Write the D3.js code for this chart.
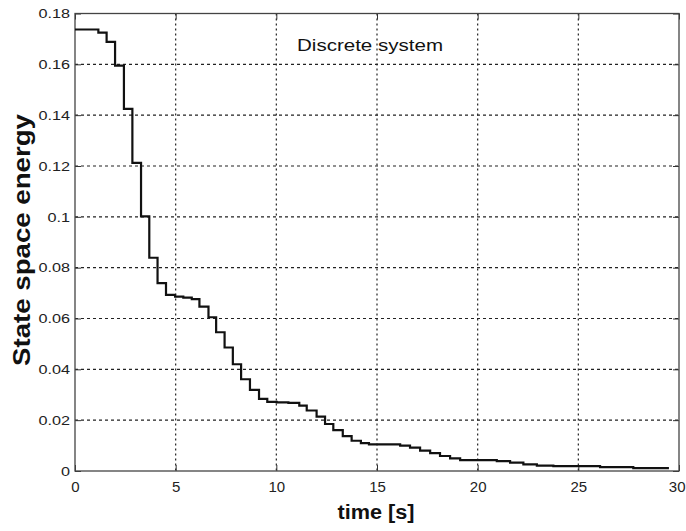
<!DOCTYPE html>
<html>
<head>
<meta charset="utf-8">
<script src="https://cdn.jsdelivr.net/npm/d3@7"></script>
<style>
  html, body { margin: 0; padding: 0; background: #fff; }
  svg { display: block; }
  text { font-family: "Liberation Sans", Arial, sans-serif; }
</style>
</head>
<body>
<svg id="chart" width="686" height="531"></svg>
<script>
// Step start times [s] and energy levels (held until next step)
const stepTimes = [0, 1.16, 1.57, 1.99, 2.43, 2.85, 3.28, 3.69, 4.10, 4.52,
  4.97, 5.38, 5.8, 6.18, 6.63, 7.01, 7.43, 7.84, 8.25, 8.69,
  9.14, 9.55, 10.02, 10.6, 11.14, 11.51, 12.0, 12.42, 12.83, 13.3,
  13.74, 14.2, 14.6, 16.15, 16.64, 17.14, 17.64, 18.13, 18.63, 19.13,
  20.95, 21.61, 22.27, 22.94, 23.76, 26.08, 27.73];
const energy = [0.1737, 0.1725, 0.1688, 0.1595, 0.1425, 0.1212, 0.1002, 0.0839, 0.0739, 0.0693,
  0.0686, 0.0682, 0.0676, 0.0647, 0.0605, 0.0546, 0.0486, 0.0420, 0.0361, 0.0319,
  0.0284, 0.0272, 0.0270, 0.0268, 0.0257, 0.0238, 0.0214, 0.0185, 0.0161, 0.0137,
  0.0119, 0.0110, 0.0105, 0.0100, 0.0092, 0.0080, 0.0070, 0.0059, 0.0050, 0.0043,
  0.0039, 0.0033, 0.0026, 0.0021, 0.0019, 0.0015, 0.0011];
const endTime = 29.5;

const xTicks = [0, 5, 10, 15, 20, 25, 30];
const yTicks = [0, 0.02, 0.04, 0.06, 0.08, 0.1, 0.12, 0.14, 0.16, 0.18];
const xLabel = "time [s]";
const yLabel = "State space energy";
const annotation = "Discrete system";

const svg = d3.select("#chart");
const m = { left: 75, right: 679, top: 13.5, bottom: 471 };

const x = d3.scaleLinear().domain([0, 30]).range([m.left, m.right]);
const y = d3.scaleLinear().domain([0, 0.18]).range([m.bottom, m.top]);

// grid
const grid = svg.append("g");
grid.selectAll("line.gx").data(xTicks.slice(1, -1)).join("line")
  .attr("x1", d => x(d)).attr("x2", d => x(d))
  .attr("y1", m.top).attr("y2", m.bottom)
  .attr("stroke", "#222").attr("stroke-width", 1.2)
  .attr("stroke-dasharray", "2,3");
grid.selectAll("line.gy").data(yTicks.slice(1, -1)).join("line")
  .attr("x1", m.left).attr("x2", m.right)
  .attr("y1", d => y(d)).attr("y2", d => y(d))
  .attr("stroke", "#222").attr("stroke-width", 1.2)
  .attr("stroke-dasharray", "3,3");

// axes
const fmtY = d => d === 0 ? "0" : d3.format("")(+d.toFixed(2));
const axB = svg.append("g").attr("transform", `translate(0,${m.bottom})`)
  .call(d3.axisBottom(x).tickValues(xTicks).tickSize(-6).tickPadding(10).tickFormat(d3.format("d")));
const axL = svg.append("g").attr("transform", `translate(${m.left},0)`)
  .call(d3.axisLeft(y).tickValues(yTicks).tickSize(-6).tickPadding(5).tickFormat(fmtY));
const axT = svg.append("g").attr("transform", `translate(0,${m.top})`)
  .call(d3.axisTop(x).tickValues(xTicks).tickSize(-6).tickFormat(""));
const axR = svg.append("g").attr("transform", `translate(${m.right},0)`)
  .call(d3.axisRight(y).tickValues(yTicks).tickSize(-6).tickFormat(""));
[axB, axL, axT, axR].forEach(a => {
  a.select(".domain").remove();
  a.selectAll(".tick line").attr("stroke", "#333");
  a.selectAll("text").attr("fill", "#222");
});
axB.selectAll("text").style("font-size", "15px");
axB.selectAll(".tick text").filter(d => d === 30).attr("text-anchor", "end").attr("dx", "6");
axL.selectAll("text").style("font-size", "13.5px");
axL.selectAll(".tick text").each(function () {
  const w = this.getComputedTextLength();
  d3.select(this).attr("textLength", w * 1.2).attr("lengthAdjust", "spacingAndGlyphs");
});

// box
svg.append("rect").attr("x", m.left).attr("y", m.top)
  .attr("width", m.right - m.left).attr("height", m.bottom - m.top)
  .attr("fill", "none").attr("stroke", "#444").attr("stroke-width", 1.3);

// line
const pts = stepTimes.map((t, i) => [t, energy[i]]);
pts.push([endTime, energy[energy.length - 1]]);
svg.append("path").datum(pts)
  .attr("fill", "none").attr("stroke", "#111").attr("stroke-width", 2.2)
  .attr("stroke-linejoin", "miter")
  .attr("d", d3.line().x(d => x(d[0])).y(d => y(d[1])).curve(d3.curveStepAfter));

// annotation
svg.append("text").attr("x", 297).attr("y", 51).text(annotation)
  .style("font-size", "16px").attr("fill", "#111")
  .attr("textLength", 146).attr("lengthAdjust", "spacingAndGlyphs");

// axis labels
svg.append("text").attr("x", 376).attr("y", 519).attr("text-anchor", "middle")
  .style("font-size", "20px").style("font-weight", "bold").attr("fill", "#111")
  .attr("textLength", 77).attr("lengthAdjust", "spacingAndGlyphs").text(xLabel);
svg.append("text").attr("transform", "translate(30,240) rotate(-90)").attr("text-anchor", "middle")
  .style("font-size", "24px").style("font-weight", "bold").attr("fill", "#111")
  .attr("textLength", 252).attr("lengthAdjust", "spacingAndGlyphs").text(yLabel);
</script>
</body>
</html>
